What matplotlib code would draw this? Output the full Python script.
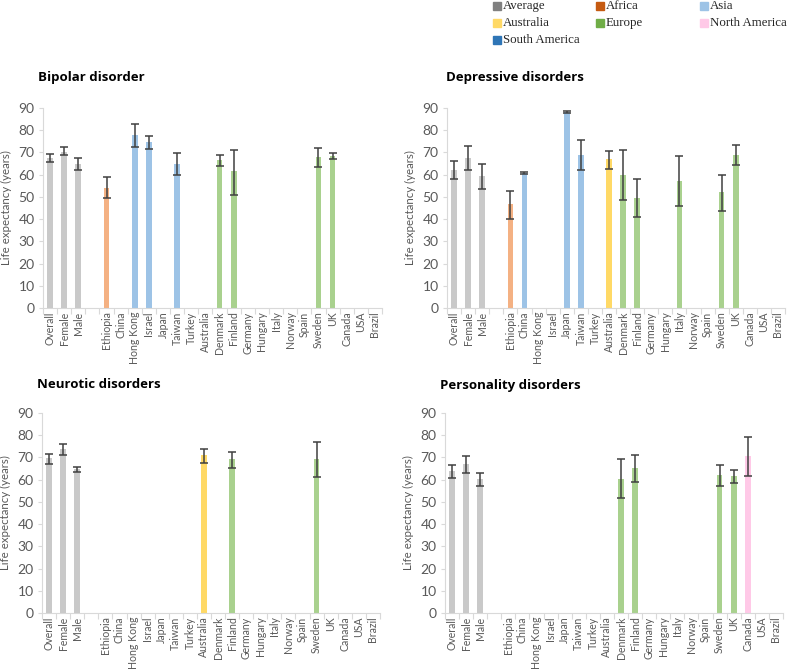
import numpy as np
import matplotlib.pyplot as plt
from matplotlib.patches import Rectangle

plt.rcParams['font.family'] = ['Lato', 'DejaVu Sans']

categories = ["Overall", "Female", "Male", "", "Ethiopia", "China", "Hong Kong", "Israel",
              "Japan", "Taiwan", "Turkey", "Australia", "Denmark", "Finland", "Germany",
              "Hungary", "Italy", "Norway", "Spain", "Sweden", "UK", "Canada", "USA", "Brazil"]

regions = ["Average"] * 4 + ["Africa"] + ["Asia"] * 6 + ["Australia"] + ["Europe"] * 9 + \
          ["North America"] * 2 + ["South America"]

bar_colors = {"Average": "#c9c9c9", "Africa": "#f4b183", "Asia": "#9dc3e6",
              "Australia": "#ffd966", "Europe": "#a9d18e", "North America": "#ffc9e7",
              "South America": "#5b9bd5"}
legend_colors = {"Average": "#808080", "Africa": "#c55a11", "Asia": "#9dc3e6",
                 "Australia": "#ffd966", "Europe": "#70ad47", "North America": "#ffc9e7",
                 "South America": "#2e75b6"}

# bipolar disorder
bip_names = ["Overall", "Female", "Male", "Ethiopia", "Hong Kong", "Israel", "Taiwan",
             "Denmark", "Finland", "Sweden", "UK"]
bip_mean = [67.3, 70.4, 64.7, 54.2, 77.9, 74.6, 64.9, 66.4, 61.5, 67.9, 68.5]
bip_low = [65.7, 68.7, 62.2, 49.3, 72.5, 71.6, 59.7, 63.9, 51.0, 63.4, 66.9]
bip_high = [69.4, 72.4, 67.5, 59.1, 82.8, 77.3, 69.7, 69.0, 71.2, 72.1, 69.7]

# depressive disorders
dep_names = ["Overall", "Female", "Male", "Ethiopia", "China", "Japan", "Taiwan",
             "Australia", "Denmark", "Finland", "Italy", "Sweden", "UK"]
dep_mean = [62.0, 67.5, 59.3, 46.6, 60.7, 88.2, 69.0, 66.9, 59.7, 49.7, 57.2, 52.0, 69.0]
dep_low = [57.9, 62.0, 53.4, 40.0, 60.4, 87.6, 62.2, 62.5, 48.5, 41.0, 45.8, 43.7, 64.5]
dep_high = [66.1, 72.7, 64.7, 52.8, 61.0, 88.7, 75.4, 70.6, 71.0, 57.9, 68.2, 60.0, 73.3]

# neurotic disorders
neu_names = ["Overall", "Female", "Male", "Australia", "Finland", "Sweden"]
neu_mean = [69.8, 73.6, 64.6, 70.9, 69.1, 69.1]
neu_low = [67.2, 71.0, 63.3, 67.3, 65.4, 61.2]
neu_high = [71.6, 76.1, 65.8, 73.7, 72.4, 76.9]

# personality disorders
per_names = ["Overall", "Female", "Male", "Denmark", "Finland", "Sweden", "UK", "Canada"]
per_mean = [63.8, 67.0, 60.2, 60.5, 65.3, 62.0, 61.6, 70.7]
per_low = [60.7, 63.2, 57.3, 51.7, 59.0, 57.3, 58.3, 61.6]
per_high = [66.5, 70.6, 63.1, 69.1, 71.0, 66.5, 64.4, 79.2]

panels = [
    ("Bipolar disorder", bip_names, bip_mean, bip_low, bip_high,
     [0.0546, 0.5396, 0.4308, 0.2990], (38, 78)),
    ("Depressive disorders", dep_names, dep_mean, dep_low, dep_high,
     [0.5680, 0.5396, 0.4295, 0.2990], (446, 78)),
    ("Neurotic disorders", neu_names, neu_mean, neu_low, neu_high,
     [0.0534, 0.0837, 0.4294, 0.2990], (37, 385)),
    ("Personality disorders", per_names, per_mean, per_low, per_high,
     [0.5654, 0.0837, 0.4295, 0.2990], (440, 385)),
]

W, H = 787, 669
fig = plt.figure(figsize=(W / 100, H / 100), dpi=100)

txt_col = "#595959"
for title, names, mean, low, high, rect, tpos in panels:
    ax = fig.add_axes(rect)
    idx = [categories.index(n) for n in names]
    cols = [bar_colors[regions[i]] for i in idx]
    mean = np.array(mean)
    yerr = np.array([mean - np.array(low), np.array(high) - mean])
    ax.bar(idx, mean, width=0.4, color=cols, zorder=2)
    ax.errorbar(idx, mean, yerr=yerr, fmt="none", ecolor="#404040", elinewidth=1.1,
                capsize=3, capthick=1.1, zorder=3)
    ax.set_xlim(-0.5, len(categories) - 0.5)
    ax.set_ylim(0, 90)
    ax.set_yticks(range(0, 91, 10))
    ax.set_xticks(range(len(categories)))
    ax.set_xticklabels(categories, rotation=90, fontsize=7.6, color=txt_col)
    ax.tick_params(axis="x", length=0, pad=2.5)
    ax.set_xticks(np.arange(-0.5, len(categories), 1), minor=True)
    ax.tick_params(axis="x", which="minor", length=4, color="#d9d9d9", width=0.8)
    ax.tick_params(axis="y", length=3, color="#d9d9d9", width=0.8, labelsize=10,
                   labelcolor=txt_col, pad=3)
    for s in ["top", "right"]:
        ax.spines[s].set_visible(False)
    for s in ["left", "bottom"]:
        ax.spines[s].set_color("#d9d9d9")
        ax.spines[s].set_linewidth(0.8)
    ax.set_ylabel("Life expectancy (years)", fontsize=8.3, color=txt_col, labelpad=5)
    fig.text(tpos[0] / W, 1 - tpos[1] / H, title, fontsize=9.5, fontweight="bold",
             ha="left", va="center", family=["Open Sans", "DejaVu Sans"])

# legend drawn by hand, Excel style
leg_items = [("Average", 493, 6), ("Africa", 596, 6), ("Asia", 700, 6),
             ("Australia", 493, 23), ("Europe", 596, 23), ("North America", 700, 23),
             ("South America", 493, 40)]
for name, lx, ly in leg_items:
    fig.patches.append(Rectangle((lx / W, 1 - (ly + 4) / H), 8 / W, 8 / H,
                                 transform=fig.transFigure, color=legend_colors[name]))
    fig.text((lx + 10) / W, 1 - ly / H, name, fontsize=9.3, ha="left", va="center",
             family=["Liberation Serif"], color="#262626")

plt.savefig("out.png", dpi=100)
